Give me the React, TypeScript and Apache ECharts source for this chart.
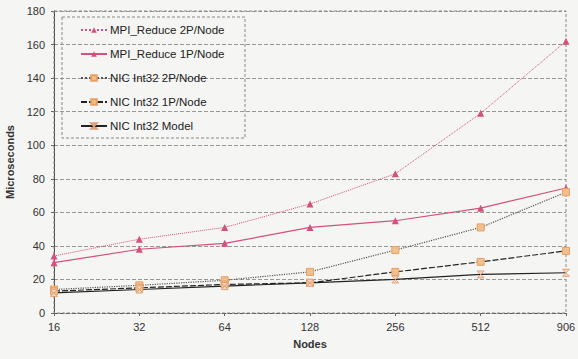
import React, { useEffect, useRef } from "react";
import * as echarts from "echarts";

const categories = ["16", "32", "64", "128", "256", "512", "906"];
const mpi2P = [34, 44, 51, 65, 83, 119, 162];
const mpi1P = [30, 38, 41.5, 51, 55, 62.5, 74.5];
const nic2P = [14, 16.5, 19.5, 24.5, 37.5, 51, 72];
const nic1P = [13, 15, 17, 18, 24.5, 30.5, 37];
const nicModel = [12, 14, 16, 18, 20, 23, 24];
const legendNames = [
  "MPI_Reduce 2P/Node",
  "MPI_Reduce 1P/Node",
  "NIC Int32 2P/Node",
  "NIC Int32 1P/Node",
  "NIC Int32 Model",
];

const pink = "#d4507e";
const orange = "#e8a060";

export default function App() {
  const ref = useRef<HTMLDivElement>(null);
  useEffect(() => {
    if (!ref.current) return;
    document.body.style.margin = "0";
    document.body.style.overflow = "hidden";
    const chart = echarts.init(ref.current, undefined, { renderer: "svg" });
    const font = "Arial";
    chart.setOption({
      animation: false,
      backgroundColor: "#f5f5f3",
      textStyle: { fontFamily: font },
      grid: { left: 54, right: 12, top: 11, bottom: 46, outerBoundsMode: "none" },
      xAxis: {
        type: "category",
        data: categories,
        boundaryGap: false,
        name: "Nodes",
        nameLocation: "middle",
        nameGap: 25,
        nameTextStyle: { fontWeight: "bold", fontSize: 11, color: "#333", fontFamily: font },
        axisLine: { lineStyle: { color: "#555", type: "dashed" } },
        axisTick: { show: true, length: 3, lineStyle: { color: "#666" } },
        axisLabel: {
          color: "#333",
          fontSize: 11,
          margin: 8,
          fontFamily: font,
          overflow: "none",
          alignMinLabel: "center",
          alignMaxLabel: "center",
          showMaxLabel: true,
        },
        splitLine: { show: false },
      },
      yAxis: {
        type: "value",
        min: 0,
        max: 180,
        interval: 20,
        name: "Microseconds",
        nameLocation: "middle",
        nameGap: 31,
        nameTextStyle: { fontWeight: "bold", fontSize: 11, color: "#333", fontFamily: font },
        axisLine: { show: true, lineStyle: { color: "#444" } },
        axisTick: { show: true, length: 3, lineStyle: { color: "#666" } },
        axisLabel: { color: "#333", fontSize: 11, margin: 9, fontFamily: font },
        splitLine: { show: true, lineStyle: { color: "#999", type: "dashed", width: 1 } },
      },
      legend: {
        orient: "vertical",
        left: 80,
        top: 24,
        itemGap: 12,
        itemWidth: 26,
        itemHeight: 7,
        padding: 0,
        textStyle: { fontSize: 11.5, color: "#222", fontFamily: font, padding: [0, 0, 0, -2] },
        data: legendNames,
      },
      graphic: [
        {
          type: "rect",
          shape: { x: 62, y: 17, width: 183, height: 121 },
          style: { fill: "none", stroke: "#888", lineWidth: 1, lineDash: [3, 2] },
          z: 100,
        },
        {
          type: "rect",
          shape: { x: 54, y: 11, width: 512, height: 302 },
          style: { fill: "none", stroke: "#888", lineWidth: 1, lineDash: [3, 2] },
          z: 1,
        },
      ],
      series: [
        {
          name: legendNames[0],
          type: "line",
          data: mpi2P,
          symbol: "triangle",
          symbolSize: 7,
          lineStyle: { color: pink, width: 1, type: "dotted" },
          itemStyle: { color: pink },
        },
        {
          name: legendNames[1],
          type: "line",
          data: mpi1P,
          symbol: "triangle",
          symbolSize: 7,
          lineStyle: { color: pink, width: 1.2, type: "solid" },
          itemStyle: { color: pink },
        },
        {
          name: legendNames[2],
          type: "line",
          data: nic2P,
          symbol: "rect",
          symbolSize: 7,
          lineStyle: { color: "#555", width: 1.2, type: "dotted" },
          itemStyle: { color: "#f0c090", borderColor: orange, borderWidth: 1 },
        },
        {
          name: legendNames[3],
          type: "line",
          data: nic1P,
          symbol: "rect",
          symbolSize: 7,
          lineStyle: { color: "#222", width: 1.2, type: [6, 2] },
          itemStyle: { color: "#f0c090", borderColor: orange, borderWidth: 1 },
        },
        {
          name: legendNames[4],
          type: "line",
          data: nicModel,
          symbol: "path://M0,0 L10,0 L0,10 L10,10 Z",
          symbolSize: 7,
          lineStyle: { color: "#222", width: 1.2, type: "solid" },
          itemStyle: { color: "#f7d8c0", borderColor: "#e0a080", borderWidth: 1 },
        },
      ],
    });
    return () => chart.dispose();
  }, []);
  return <div ref={ref} style={{ position: "fixed", left: 0, top: 0, width: 578, height: 359 }} />;
}
